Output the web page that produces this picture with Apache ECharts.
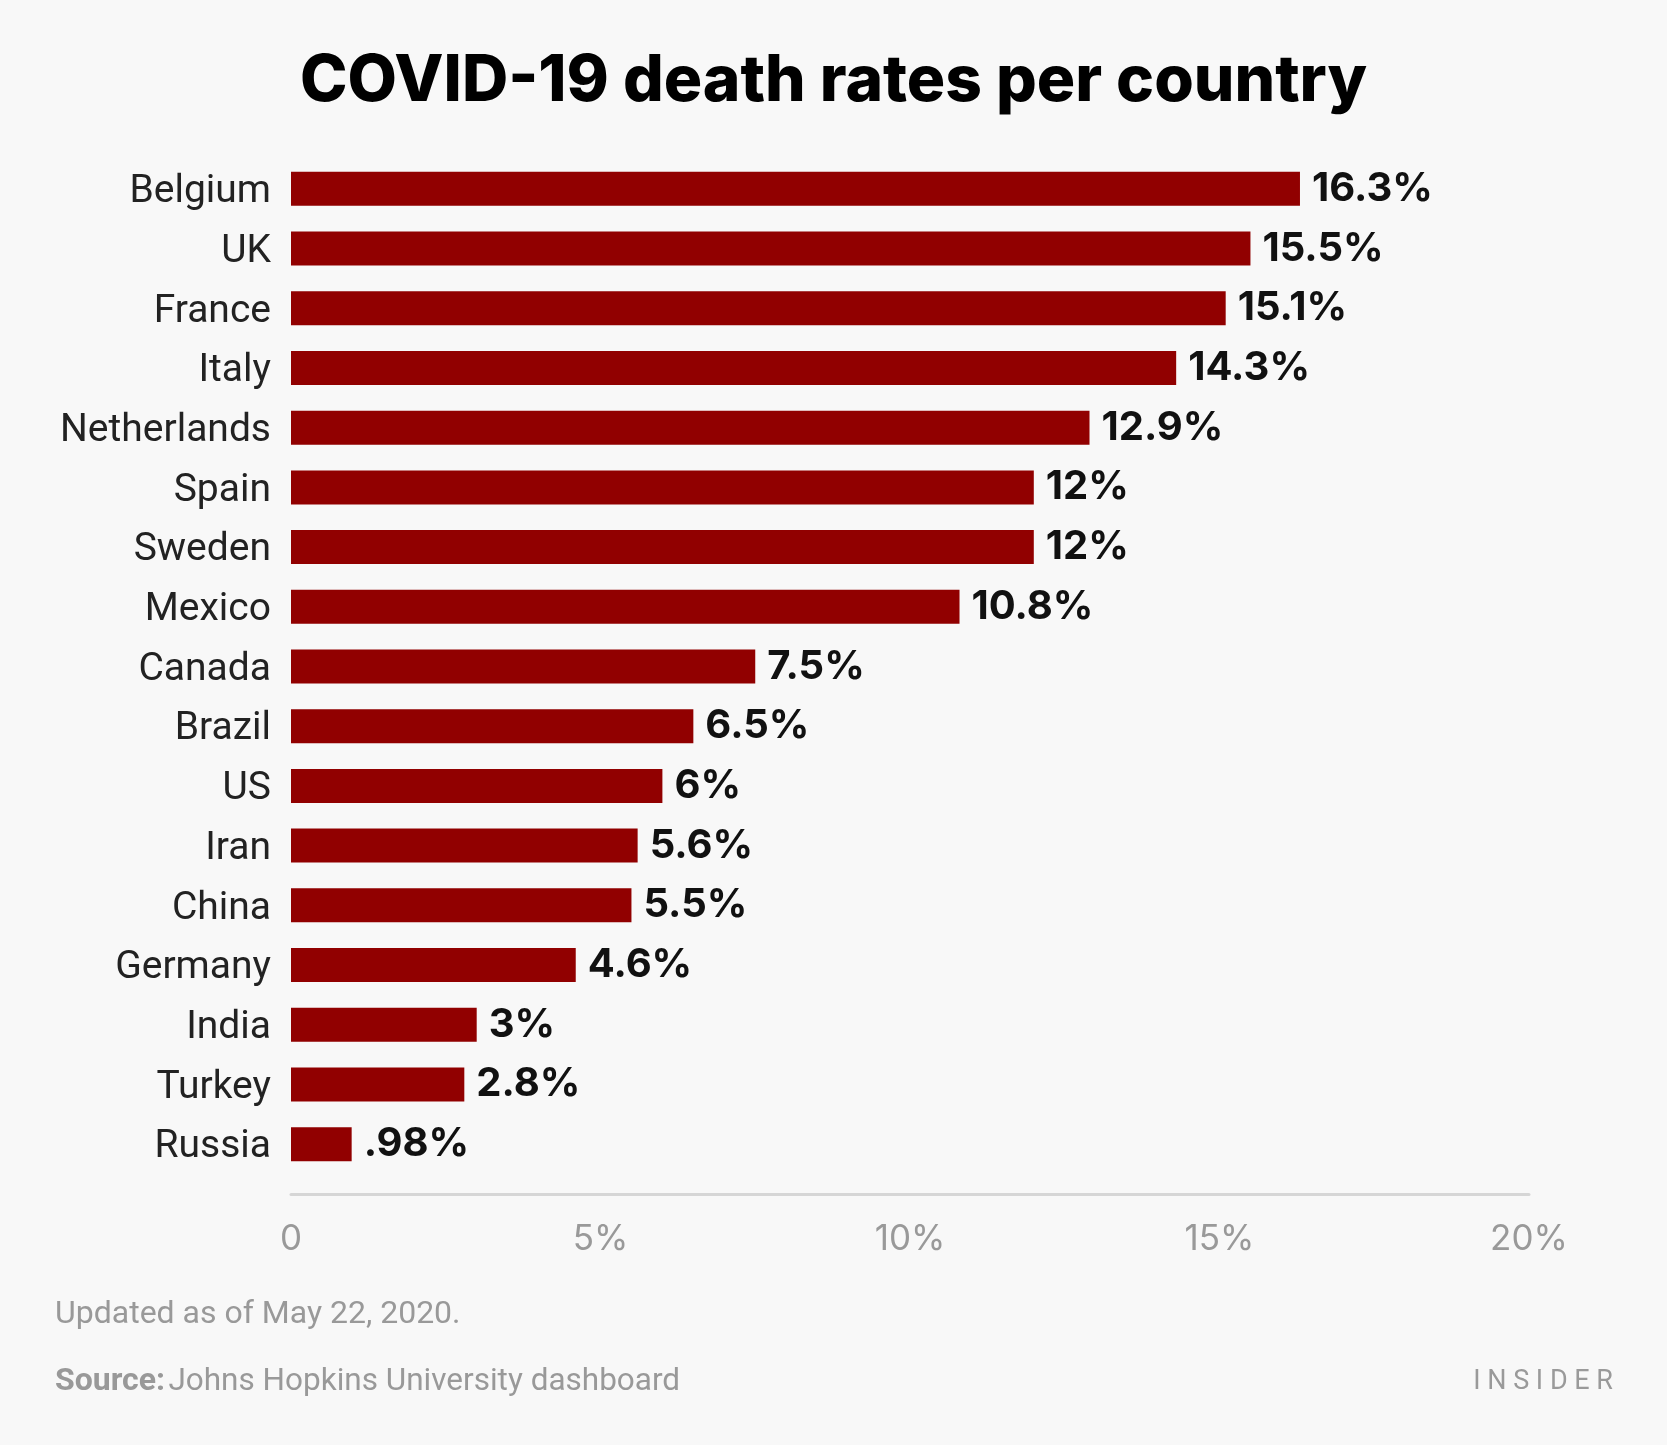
<!DOCTYPE html>
<html>
<head>
<meta charset="utf-8">
<script src="https://cdn.jsdelivr.net/npm/echarts@6/dist/echarts.min.js"></script>
<style>
  html, body { margin: 0; padding: 0; background: #f8f8f8; }
  #chart { width: 1667px; height: 1445px; }
</style>
</head>
<body>
<div id="chart"></div>
<script>
const countries = ['Belgium','UK','France','Italy','Netherlands','Spain','Sweden','Mexico','Canada','Brazil','US','Iran','China','Germany','India','Turkey','Russia'];
const deathRates = [16.3, 15.5, 15.1, 14.3, 12.9, 12, 12, 10.8, 7.5, 6.5, 6, 5.6, 5.5, 4.6, 3, 2.8, 0.98];
const xTicks = [0, 5, 10, 15, 20];

const chart = echarts.init(document.getElementById('chart'), null, { renderer: 'canvas' });
const FONT = 'Roboto, "Noto Sans", sans-serif';
const FONT2 = 'Inter, Roboto, sans-serif';

chart.setOption({
  backgroundColor: '#f8f8f8',
  animation: false,
  title: {
    text: 'COVID-19 death rates per country',
    left: 'center',
    top: 45,
    textStyle: { fontFamily: FONT2, fontSize: 64, fontWeight: 800, color: '#000' }
  },
  grid: { left: 291, right: 138, top: 159, bottom: 271, containLabel: false },
  xAxis: {
    type: 'value',
    min: 0, max: 20, interval: 5,
    offset: 20,
    axisLine: { show: true, lineStyle: { color: '#d6d6d6', width: 3 } },
    axisTick: { show: false },
    splitLine: { show: false },
    axisLabel: {
      margin: 28,
      fontFamily: FONT2, fontSize: 35, color: '#999999',
      formatter: v => xTicks.includes(v) ? (v === 0 ? '0' : v + '%') : ''
    }
  },
  yAxis: {
    type: 'category',
    inverse: true,
    data: countries,
    axisLine: { show: false },
    axisTick: { show: false },
    axisLabel: {
      margin: 20,
      fontFamily: FONT, fontSize: 39, color: '#222222',
      formatter: v => '{c|' + v + '}',
      rich: { c: { fontFamily: FONT, fontSize: 39, color: '#222222', padding: [7, 0, 0, 0] } }
    }
  },
  series: [{
    type: 'bar',
    data: deathRates,
    barWidth: 34,
    itemStyle: { color: '#910000' },
    label: {
      show: true,
      position: 'right',
      distance: 12,
      padding: [8, 0, 0, 0],
      fontFamily: FONT2, fontSize: 40, fontWeight: 'bold', color: '#111111',
      formatter: p => String(p.value).replace(/^0(?=\.)/, '') + '%'
    }
  }],
  graphic: [
    {
      type: 'text', left: 55, top: 1299,
      style: { text: 'Updated as of May 22, 2020.', fontFamily: FONT, fontSize: 32, fill: '#999999' }
    },
    {
      type: 'text', left: 55, top: 1366,
      style: {
        text: '{b|Source:} {r|Johns Hopkins University dashboard}',
        rich: {
          b: { fontFamily: FONT, fontSize: 32, fontWeight: 'bold', fill: '#999999', color: '#999999' },
          r: { fontFamily: FONT, fontSize: 31.5, fill: '#999999', color: '#999999' }
        }
      }
    },
    {
      type: 'text', right: 54, top: 1369,
      style: { text: 'I N S I D E R', fontFamily: FONT, fontSize: 27, fill: '#9a9a9a' }
    }
  ]
});
</script>
</body>
</html>
